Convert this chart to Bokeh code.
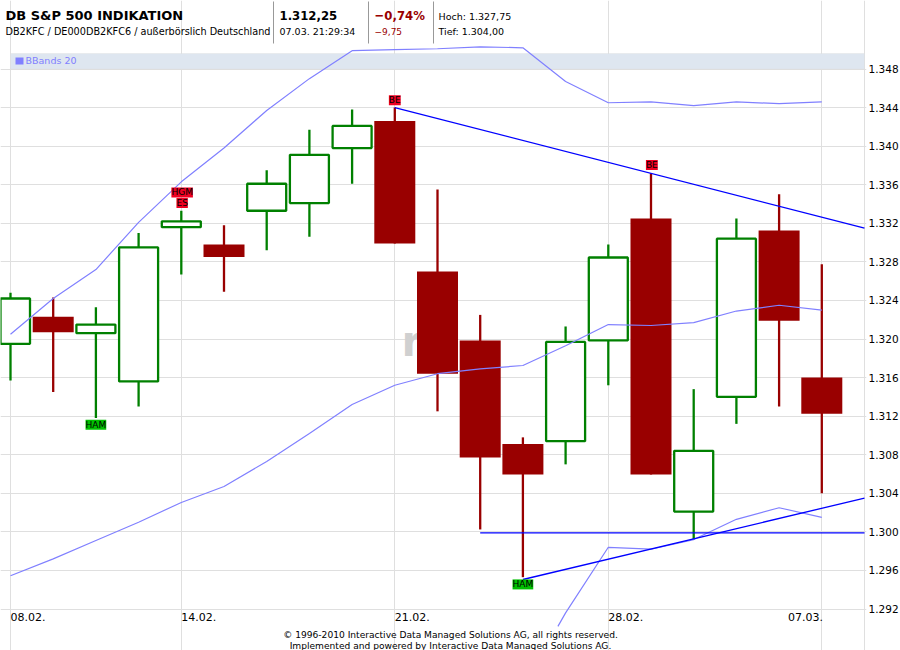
from bokeh.embed import file_html
from bokeh.resources import INLINE
from bokeh.plotting import figure
from bokeh.models import (BoxAnnotation, FixedTicker, Label, LinearAxis, Range1d, Grid)

# ---- data ----
session = list(range(20))
open_ = [1319.5, 1322.3, 1320.6, 1315.6, 1331.6, 1329.8, 1333.3, 1334.1, 1339.8, 1342.6,
         1327.0, 1319.85, 1309.1, 1309.4, 1319.85, 1332.5, 1302.1, 1314.0, 1331.25, 1316.0]
close = [1324.2, 1320.7, 1321.5, 1329.5, 1332.2, 1328.5, 1336.1, 1339.1, 1342.1, 1329.9,
         1316.4, 1307.7, 1305.95, 1319.7, 1328.45, 1305.95, 1308.4, 1330.4, 1321.9, 1312.25]
high = [1324.8, 1324.3, 1323.3, 1331.0, 1333.3, 1331.8, 1337.5, 1341.7, 1343.8, 1344.0,
        1335.5, 1322.5, 1309.8, 1321.3, 1329.8, 1337.2, 1314.8, 1332.5, 1335.0, 1327.75]
low = [1315.7, 1314.5, 1311.8, 1313.0, 1326.7, 1324.9, 1329.2, 1330.6, 1336.1, 1329.9,
       1312.5, 1300.25, 1295.3, 1307.0, 1315.2, 1305.95, 1299.2, 1311.2, 1313.0, 1304.0]

band_upper = [1320.5, 1324.2, 1327.2, 1332.1, 1336.3, 1339.8, 1343.7, 1347.0, 1349.9, 1350.0,
              1350.1, 1350.3, 1350.2, 1346.7, 1344.5, 1344.6, 1344.2, 1344.6, 1344.4, 1344.6]
band_middle = [1295.45, 1297.2, 1299.1, 1301.0, 1303.05, 1304.7, 1307.3, 1310.2, 1313.2, 1315.2,
               1316.4, 1316.9, 1317.25, 1319.3, 1321.5, 1321.4, 1321.7, 1322.9, 1323.5, 1323.0]
band_lower_x = [12.82, 13, 14, 15, 16, 17, 18, 19]
band_lower = [1290.2, 1291.6, 1298.4, 1298.2, 1299.2, 1301.3, 1302.5, 1301.5]

trend_x = [[9, 20], [11, 20], [12, 20]]
trend_y = [[1344.0, 1331.5], [1299.9, 1299.9], [1295.06, 1303.5]]

tag_text = ["BE", "HGM", "ES", "BE", "HAM", "HAM"]
tag_x = [9, 4.02, 4.02, 15.02, 2, 12]
tag_y = [1344.75, 1335.2, 1334.1, 1338.05, 1311.1, 1294.55]
tag_color = ["#ee0022", "#ee0022", "#ee0022", "#ee0022", "#00c000", "#00c000"]

y_ticks = list(range(1292, 1352, 4))
y_tick_labels = ["1.292", "1.296", "1.300", "1.304", "1.308", "1.312", "1.316", "1.320",
                 "1.324", "1.328", "1.332", "1.336", "1.340", "1.344", "1.348"]
x_grid_ticks = [0, 4, 9, 14, 19, 20]
x_label_ticks = [0.41, 4.41, 9.41, 14.41, 18.62]
x_tick_labels = ["08.02.", "14.02.", "21.02.", "28.02.", "07.03."]

# ---- scale helpers for the page furniture (reference pixels -> data) ----
PX_X = 42.7
PX_Y = 9.643
def sx(px):
    return (px - 10) / PX_X
def sy(py):
    return 1348 - (py - 68.5) / PX_Y

GREEN = "#008000"
RED = "#990000"
GRID = "#dfdfdf"
BAND = "#8080ff"
FONT = "DejaVu Sans"
COND = "DejaVu Sans Condensed"

p = figure(frame_width=866, frame_height=650, output_backend="svg", toolbar_location=None,
           x_range=Range1d(sx(0), sx(866)), y_range=Range1d(sy(650), sy(0)),
           min_border_left=0, min_border_top=0, min_border_bottom=0, min_border_right=34,
           x_axis_type=None, y_axis_type=None, outline_line_color=None)
p.xgrid.visible = False
p.ygrid.visible = False

# axes
yax = LinearAxis(ticker=FixedTicker(ticks=y_ticks), axis_line_color=None,
                 major_tick_line_color=None, minor_tick_line_color=None,
                 major_tick_out=0, major_tick_in=0, minor_tick_out=0, minor_tick_in=0,
                 major_label_standoff=2, major_label_text_font=FONT,
                 major_label_text_font_size="10.5px", major_label_text_color="#000000",
                 major_label_overrides=dict(zip(y_ticks, y_tick_labels)))
p.add_layout(yax, "right")
xax = LinearAxis(ticker=FixedTicker(ticks=x_label_ticks), axis_line_color=None, fixed_location=1292,
                 major_tick_line_color=None, minor_tick_line_color=None,
                 major_tick_out=0, major_tick_in=0, minor_tick_out=0, minor_tick_in=0,
                 major_label_standoff=4, major_label_text_font=FONT,
                 major_label_text_font_size="11px", major_label_text_color="#000000",
                 major_label_overrides=dict(zip(x_label_ticks, x_tick_labels)))
p.add_layout(xax, "below")

# grids
p.add_layout(Grid(dimension=0, axis=xax, ticker=FixedTicker(ticks=x_grid_ticks), bounds=(1292, 1348),
                  grid_line_color=GRID, grid_line_width=1))
p.add_layout(Grid(dimension=1, axis=yax, ticker=FixedTicker(ticks=y_ticks), bounds=(0, 20),
                  grid_line_color=GRID, grid_line_width=1))

# legend band
p.add_layout(BoxAnnotation(left=0, right=20, bottom=1348, top=sy(53), fill_color="#dee6f0", fill_alpha=1,
                           line_color="#dcdcdc", line_width=1, level="underlay"))
p.add_layout(BoxAnnotation(left=sx(15), right=sx(23), bottom=sy(64), top=sy(57), fill_color=BAND, fill_alpha=1,
                           line_color=None, level="underlay"))
p.add_layout(Label(x=sx(25), y=sy(60), text="BBands 20", text_color=BAND, text_font=FONT,
                   text_font_size="9.5px", text_baseline="middle", level="annotation"))

# watermark fragment
p.add_layout(Label(x=sx(401), y=sy(341), text="r", text_color="#d0d0d0", text_font=FONT, text_font_style="bold",
                   text_font_size="42px", text_baseline="middle", level="underlay"))

# candles
up = [i for i in session if close[i] > open_[i]]
down = [i for i in session if close[i] <= open_[i]]
p.segment([session[i] for i in up], [low[i] for i in up], [session[i] for i in up], [high[i] for i in up],
          line_color=GREEN, line_width=2.3)
p.segment([session[i] for i in down], [low[i] for i in down], [session[i] for i in down], [high[i] for i in down],
          line_color=RED, line_width=2.3)
p.vbar(x=[session[i] for i in up], bottom=[open_[i] for i in up], top=[close[i] for i in up], width=39 / PX_X,
       fill_color="#ffffff", line_color=GREEN, line_width=2.3)
p.vbar(x=[session[i] for i in down], bottom=[close[i] for i in down], top=[open_[i] for i in down], width=41 / PX_X,
       fill_color=RED, line_color=None)

# Bollinger bands
p.line(session, band_upper, line_color=BAND, line_width=1.2)
p.line(session, band_middle, line_color=BAND, line_width=1.2)
p.line(band_lower_x, band_lower, line_color=BAND, line_width=1.2)

# trend lines
p.multi_line(trend_x, trend_y, line_color="#0000ff", line_width=1.3)

# candle pattern tags
for t, x, y, c in zip(tag_text, tag_x, tag_y, tag_color):
    p.add_layout(Label(x=x, y=y, text=t, text_font=FONT, text_font_size="9px", text_color="#000000",
                       text_align="center", text_baseline="middle", background_fill_color=c,
                       background_fill_alpha=1, padding=0))

# header
def head(px, py, text, size="9.5px", style="normal", color="#000000", align="left", font=FONT):
    p.add_layout(Label(x=sx(px), y=sy(py), text=text, text_font=font, text_font_size=size,
                       text_font_style=style, text_color=color, text_align=align, text_baseline="middle"))

head(5, 14.5, "DB S&P 500 INDIKATION", "13px", "bold")
head(5, 31, "DB2KFC / DE000DB2KFC6 / außerbörslich Deutschland", "9.7px")
head(279, 14.5, "1.312,25", "13px", "bold", font=COND)
head(279, 31, "07.03. 21:29:34")
head(374, 14.5, "−0,74%", "13px", "bold", RED, font=COND)
head(374, 31, "−9,75", "9px", "normal", RED)
head(438, 16, "Hoch: 1.327,75")
head(438, 31, "Tief: 1.304,00")
for px in (273, 368, 433):
    p.add_layout(BoxAnnotation(left=sx(px - 0.5), right=sx(px + 0.5), bottom=sy(43), top=sy(1),
                               fill_color="#999999", fill_alpha=1, line_color=None))

# footer
head(450, 634.5, "© 1996-2010 Interactive Data Managed Solutions AG, all rights reserved.", "9.1px", align="center")
head(450, 645, "Implemented and powered by Interactive Data Managed Solutions AG.", "9.1px", align="center")

open("out.html", "w").write(file_html(p, INLINE))
